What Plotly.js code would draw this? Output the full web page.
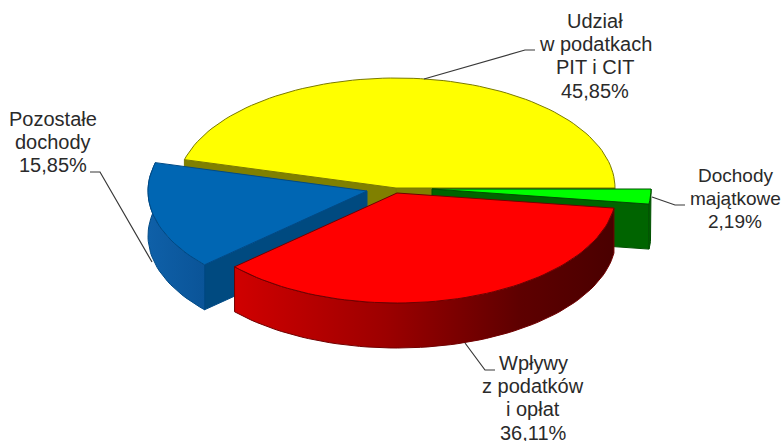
<!DOCTYPE html>
<html>
<head>
<meta charset="utf-8">
<script src="https://cdn.plot.ly/plotly-3.0.1.min.js"></script>
<style>html,body{margin:0;padding:0;background:#fff}#c{width:782px;height:441px}</style>
</head>
<body>
<div id="c"></div>
<script>
// Data, counter-clockwise from the 3 o'clock direction
const categories = ["Udział w podatkach PIT i CIT", "Pozostałe dochody", "Wpływy z podatków i opłat", "Dochody majątkowe"];
const values = [45.85, 15.85, 36.11, 2.19];
const labelLines = [
  ["Udział", "w podatkach", "PIT i CIT", "45,85%"],
  ["Pozostałe", "dochody", "15,85%"],
  ["Wpływy", "z podatków", "i opłat", "36,11%"],
  ["Dochody", "majątkowe", "2,19%"]
];

// Layout of the pseudo-3D pie (separate from the data)
const RX = 219, RY = 110, DEPTH = 45;
const centers = [[396, 188], [367, 191], [397, 193], [432, 189]];
const topColors = ["#FFFF00", "#0066B3", "#FF0000", "#00FF00"];
const edgeColors = ["#7A7A00", "#004A86", "#700000", "#005000"];
const cutColors = ["#808000", "#004A80", "#800000", "#006400"];
const wallScales = [
  null,
  [[0, "#0F60A8"], [1, "#0A5498"]],
  [[0, "#D00000"], [0.4, "#9C0000"], [0.75, "#5E0000"], [1, "#4A0000"]],
  null
];
const labelAnchors = [[595, 21], [53, 119], [533, 363], [735, 175]];
const labelSizes = [20, 20, 20, 19];
const LINE = 23.2;
const leaders = [
  [[424, 79], [525, 50], [535, 50]],
  [[90, 172], [100, 172], [152, 262]],
  [[465, 343], [485, 370], [495, 370]],
  [[652, 197], [675, 205], [685, 205]]
];

// Slice angles from the values
const spans = [];
let acc = 0;
const total = values.reduce((a, b) => a + b, 0);
values.forEach(v => {
  const s = acc / total * 360;
  acc += v;
  spans.push([s, acc / total * 360]);
});
const pt = (c, deg, dy = 0) => {
  const t = deg * Math.PI / 180;
  return [c[0] + RX * Math.cos(t), c[1] - RY * Math.sin(t) + dy];
};
const arc = (c, a, b, dy = 0) => {
  const n = Math.max(4, Math.ceil(Math.abs(b - a) / 2));
  const out = [];
  for (let i = 0; i <= n; i++) out.push(pt(c, a + (b - a) * i / n, dy));
  return out;
};
const poly = (pts, fill, line, extra = {}) => Object.assign({
  type: "scatter", mode: "lines", fill: "toself", fillcolor: fill,
  x: pts.map(p => p[0]).concat([pts[0][0]]),
  y: pts.map(p => p[1]).concat([pts[0][1]]),
  line: { color: line, width: 1 }, hoverinfo: "skip", showlegend: false
}, extra);

const traces = [];
const cutFace = (i, deg) => {
  const c = centers[i], e = pt(c, deg);
  return poly([c, e, [e[0], e[1] + DEPTH], [c[0], c[1] + DEPTH]], cutColors[i], edgeColors[i]);
};
const topFace = i => poly([centers[i]].concat(arc(centers[i], spans[i][0], spans[i][1])), topColors[i], edgeColors[i]);
const wall = (i, a, b) => {
  const c = centers[i];
  const pts = arc(c, a, b).concat(arc(c, b, a, DEPTH));
  const xs = pts.map(p => p[0]);
  const extra = wallScales[i] ? {
    fillgradient: { type: "horizontal", colorscale: wallScales[i], start: Math.min(...xs), stop: Math.max(...xs) }
  } : {};
  return poly(pts, wallScales[i] ? wallScales[i][0][1] : cutColors[i], edgeColors[i], extra);
};

// Painter's order, back to front
traces.push(cutFace(0, spans[0][0]));
traces.push(cutFace(0, spans[0][1]));
traces.push(topFace(0));
traces.push(cutFace(3, spans[3][0]));
traces.push(wall(3, spans[3][0], spans[3][1]));
traces.push(topFace(3));
traces.push(cutFace(1, spans[1][1]));
traces.push(wall(1, spans[1][0], spans[1][1]));
traces.push(topFace(1));
traces.push(wall(2, spans[2][0], spans[2][1]));
traces.push(topFace(2));

const shapes = leaders.map(l => ({
  type: "path", xref: "x", yref: "y",
  path: l.map((p, i) => (i ? "L" : "M") + p[0] + " " + p[1]).join(" "),
  line: { color: "#383838", width: 1.2 }
}));

const annotations = [];
labelLines.forEach((lines, i) => lines.forEach((t, j) => annotations.push({
  x: labelAnchors[i][0], y: labelAnchors[i][1] + j * LINE, xref: "x", yref: "y",
  text: t, showarrow: false, xanchor: "center", yanchor: "middle",
  font: { family: "Liberation Sans, Arial, sans-serif", size: labelSizes[i], color: "#2A2A2A" }
})));

Plotly.newPlot("c", traces, {
  width: 782, height: 441,
  margin: { l: 0, r: 0, t: 0, b: 0 },
  paper_bgcolor: "#fff", plot_bgcolor: "#fff",
  xaxis: { range: [0, 782], visible: false, fixedrange: true },
  yaxis: { range: [441, 0], visible: false, fixedrange: true },
  shapes, annotations, showlegend: false
}, { displayModeBar: false, staticPlot: true });
</script>
</body>
</html>
